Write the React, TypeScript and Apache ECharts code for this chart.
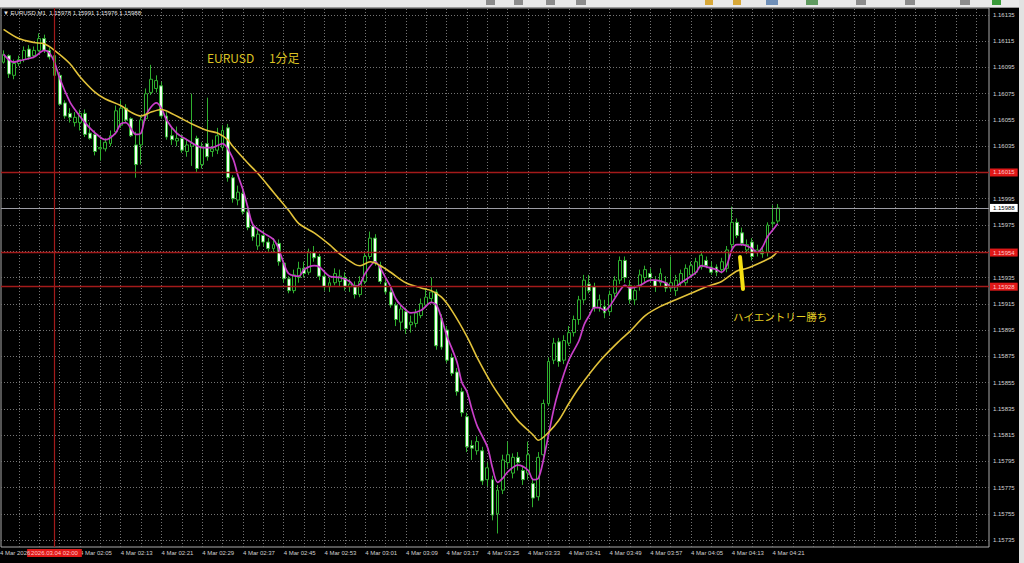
import React, { useEffect, useRef } from 'react';
import * as echarts from 'echarts';

// ---- time slots (M1 bars), starting 01:50 on 4 Mar 2026 ----
const START_MINUTE = 110;
const SLOT_COUNT = 194;
const times: string[] = Array.from({ length: SLOT_COUNT }, (_, i) => {
  const m = START_MINUTE + i;
  return `${String(Math.floor(m / 60)).padStart(2, '0')}:${String(m % 60).padStart(2, '0')}`;
});

// ---- OHLC (bars 01:50 .. 04:22) ----
const opens = [
  1.16099, 1.16104, 1.16089, 1.16098, 1.16101, 1.16109, 1.16104, 1.16108, 1.16117, 1.16108,
  1.16104, 1.16089, 1.16068, 1.16060, 1.16053, 1.16053, 1.16060, 1.16045, 1.16044, 1.16033,
  1.16033, 1.16037, 1.16046, 1.16051, 1.16064, 1.16056, 1.16036, 1.16036, 1.16056, 1.16076,
  1.16079, 1.16081, 1.16058, 1.16043, 1.16039, 1.16041, 1.16031, 1.16035, 1.16041, 1.16021,
  1.16037, 1.16031, 1.16032, 1.16034, 1.16049, 1.16011, 1.15994, 1.15999, 1.15985, 1.15974,
  1.15959, 1.15967, 1.15962, 1.15957, 1.15961, 1.15946, 1.15934, 1.15925, 1.15935, 1.15942,
  1.15939, 1.15954, 1.15951, 1.15936, 1.15928, 1.15931, 1.15932, 1.15935, 1.15928, 1.15929,
  1.15922, 1.15932, 1.15951, 1.15965, 1.15944, 1.15931, 1.15924, 1.15914, 1.15901, 1.15909,
  1.15899, 1.15900, 1.15906, 1.15914, 1.15919, 1.15924, 1.15904, 1.15895, 1.15874, 1.15863,
  1.15848, 1.15829, 1.15807, 1.15803, 1.15803, 1.15781, 1.15781, 1.15755, 1.15773, 1.15794,
  1.15786, 1.15798, 1.15788, 1.15786, 1.15778, 1.15768, 1.15800, 1.15839, 1.15872, 1.15886,
  1.15872, 1.15885, 1.15893, 1.15903, 1.15918, 1.15930, 1.15928, 1.15912, 1.15913, 1.15909,
  1.15923, 1.15933, 1.15948, 1.15929, 1.15918, 1.15928, 1.15935, 1.15938, 1.15933, 1.15931,
  1.15931, 1.15927, 1.15925, 1.15931, 1.15931, 1.15937, 1.15939, 1.15943, 1.15948, 1.15943,
  1.15943, 1.15941, 1.15942, 1.15960, 1.15977, 1.15969, 1.15956, 1.15962, 1.15954, 1.15955,
  1.15954, 1.15976, 1.15978,
];
const highs = [
  1.16108, 1.16105, 1.16101, 1.16104, 1.16111, 1.16112, 1.16111, 1.16121, 1.16120, 1.16110,
  1.16104, 1.16091, 1.16070, 1.16064, 1.16061, 1.16063, 1.16063, 1.16053, 1.16047, 1.16040,
  1.16041, 1.16047, 1.16066, 1.16070, 1.16067, 1.16057, 1.16046, 1.16058, 1.16079, 1.16097,
  1.16089, 1.16084, 1.16061, 1.16049, 1.16050, 1.16044, 1.16040, 1.16075, 1.16043, 1.16038,
  1.16072, 1.16040, 1.16049, 1.16051, 1.16052, 1.16013, 1.16005, 1.16002, 1.15987, 1.15977,
  1.15973, 1.15971, 1.15965, 1.15965, 1.15964, 1.15948, 1.15936, 1.15941, 1.15947, 1.15947,
  1.15957, 1.15959, 1.15953, 1.15939, 1.15935, 1.15942, 1.15941, 1.15939, 1.15934, 1.15932,
  1.15936, 1.15954, 1.15970, 1.15968, 1.15947, 1.15934, 1.15927, 1.15916, 1.15914, 1.15912,
  1.15906, 1.15911, 1.15919, 1.15927, 1.15935, 1.15926, 1.15907, 1.15898, 1.15877, 1.15866,
  1.15851, 1.15832, 1.15811, 1.15814, 1.15806, 1.15794, 1.15784, 1.15777, 1.15800, 1.15810,
  1.15801, 1.15802, 1.15791, 1.15810, 1.15782, 1.15802, 1.15842, 1.15874, 1.15889, 1.15889,
  1.15891, 1.15898, 1.15906, 1.15921, 1.15937, 1.15937, 1.15931, 1.15922, 1.15918, 1.15925,
  1.15936, 1.15951, 1.15951, 1.15933, 1.15929, 1.15941, 1.15944, 1.15942, 1.15936, 1.15942,
  1.15936, 1.15951, 1.15937, 1.15941, 1.15945, 1.15947, 1.15950, 1.15955, 1.15951, 1.15947,
  1.15945, 1.15950, 1.15959, 1.15989, 1.15980, 1.15973, 1.15964, 1.15965, 1.15960, 1.15959,
  1.15977, 1.15990, 1.15991,
];
const lows = [
  1.16098, 1.16087, 1.16086, 1.16096, 1.16099, 1.16101, 1.16102, 1.16107, 1.16106, 1.16101,
  1.16087, 1.16066, 1.16056, 1.16053, 1.16050, 1.16047, 1.16042, 1.16040, 1.16028, 1.16024,
  1.16031, 1.16035, 1.16044, 1.16049, 1.16053, 1.16042, 1.16011, 1.16021, 1.16055, 1.16074,
  1.16076, 1.16056, 1.16040, 1.16036, 1.16035, 1.16030, 1.16027, 1.16020, 1.16015, 1.16018,
  1.16024, 1.16027, 1.16029, 1.16032, 1.16008, 1.15992, 1.15990, 1.15983, 1.15971, 1.15963,
  1.15956, 1.15959, 1.15954, 1.15954, 1.15944, 1.15931, 1.15923, 1.15923, 1.15931, 1.15935,
  1.15937, 1.15947, 1.15933, 1.15925, 1.15924, 1.15929, 1.15928, 1.15925, 1.15924, 1.15919,
  1.15920, 1.15930, 1.15949, 1.15944, 1.15930, 1.15922, 1.15912, 1.15898, 1.15895, 1.15892,
  1.15893, 1.15897, 1.15904, 1.15912, 1.15916, 1.15880, 1.15880, 1.15870, 1.15860, 1.15845,
  1.15829, 1.15802, 1.15796, 1.15800, 1.15777, 1.15776, 1.15750, 1.15740, 1.15770, 1.15790,
  1.15782, 1.15788, 1.15777, 1.15781, 1.15760, 1.15765, 1.15797, 1.15837, 1.15869, 1.15867,
  1.15869, 1.15883, 1.15890, 1.15899, 1.15915, 1.15923, 1.15909, 1.15909, 1.15904, 1.15906,
  1.15920, 1.15930, 1.15931, 1.15915, 1.15914, 1.15925, 1.15931, 1.15931, 1.15924, 1.15928,
  1.15924, 1.15924, 1.15921, 1.15928, 1.15928, 1.15935, 1.15937, 1.15941, 1.15942, 1.15937,
  1.15936, 1.15938, 1.15939, 1.15957, 1.15965, 1.15959, 1.15953, 1.15948, 1.15951, 1.15950,
  1.15951, 1.15973, 1.15976,
];
const closes = [
  1.16105, 1.16090, 1.16098, 1.16101, 1.16108, 1.16103, 1.16108, 1.16117, 1.16108, 1.16103,
  1.16089, 1.16067, 1.16058, 1.16057, 1.16057, 1.16060, 1.16044, 1.16041, 1.16031, 1.16034,
  1.16038, 1.16043, 1.16062, 1.16064, 1.16055, 1.16043, 1.16021, 1.16055, 1.16075, 1.16086,
  1.16085, 1.16058, 1.16042, 1.16040, 1.16041, 1.16032, 1.16036, 1.16037, 1.16018, 1.16035,
  1.16027, 1.16033, 1.16043, 1.16047, 1.16011, 1.15995, 1.16000, 1.15985, 1.15973, 1.15966,
  1.15968, 1.15962, 1.15957, 1.15960, 1.15947, 1.15934, 1.15925, 1.15937, 1.15942, 1.15938,
  1.15954, 1.15950, 1.15936, 1.15928, 1.15931, 1.15938, 1.15936, 1.15928, 1.15930, 1.15922,
  1.15932, 1.15951, 1.15965, 1.15947, 1.15932, 1.15924, 1.15914, 1.15903, 1.15911, 1.15896,
  1.15901, 1.15908, 1.15915, 1.15920, 1.15924, 1.15883, 1.15882, 1.15872, 1.15862, 1.15848,
  1.15832, 1.15806, 1.15805, 1.15810, 1.15780, 1.15790, 1.15754, 1.15773, 1.15796, 1.15800,
  1.15798, 1.15794, 1.15781, 1.15800, 1.15767, 1.15798, 1.15839, 1.15871, 1.15885, 1.15871,
  1.15887, 1.15893, 1.15903, 1.15918, 1.15933, 1.15925, 1.15912, 1.15918, 1.15908, 1.15922,
  1.15933, 1.15948, 1.15935, 1.15918, 1.15925, 1.15937, 1.15941, 1.15935, 1.15928, 1.15938,
  1.15927, 1.15931, 1.15933, 1.15938, 1.15942, 1.15944, 1.15947, 1.15952, 1.15944, 1.15939,
  1.15939, 1.15947, 1.15956, 1.15977, 1.15967, 1.15961, 1.15960, 1.15951, 1.15956, 1.15953,
  1.15975, 1.15977, 1.15988,
];

// ---- moving averages: [bar index, price] ----
const maFast: [number, number][] = [
  [0, 1.16105], [2, 1.16099], [3, 1.161], [6, 1.16103], [8, 1.16108], [9, 1.16106], [10, 1.16099],
  [11, 1.16087], [13, 1.16069], [14, 1.16063], [16, 1.16053], [18, 1.16045], [20, 1.1604],
  [22, 1.16045], [23, 1.16052], [24, 1.16053], [26, 1.16044], [27, 1.16045], [28, 1.16059],
  [30, 1.16068], [31, 1.16064], [32, 1.16055], [34, 1.16045], [36, 1.1604], [39, 1.16034],
  [41, 1.16034], [43, 1.16037], [45, 1.16026], [46, 1.16013], [47, 1.16002], [48, 1.15988],
  [49, 1.15975], [51, 1.15969], [53, 1.15964], [54, 1.15957], [55, 1.15946], [56, 1.15938],
  [58, 1.15936], [59, 1.15941], [61, 1.15944], [62, 1.15943], [64, 1.15936], [66, 1.15935],
  [68, 1.15932], [69, 1.15928], [70, 1.1593], [71, 1.15938], [73, 1.15947], [74, 1.15942],
  [75, 1.15935], [76, 1.15928], [77, 1.15919], [78, 1.15914], [80, 1.15908], [82, 1.1591],
  [84, 1.15916], [85, 1.15914], [86, 1.15904], [87, 1.15891], [89, 1.15871], [90, 1.15855],
  [91, 1.15848], [92, 1.15834], [93, 1.15822], [95, 1.15806], [96, 1.1579], [97, 1.15779],
  [98, 1.15782], [99, 1.15787], [101, 1.15792], [103, 1.15788], [104, 1.15781], [105, 1.15782],
  [106, 1.15796], [108, 1.15834], [109, 1.15849], [111, 1.15872], [113, 1.15887], [114, 1.15899],
  [115, 1.15906], [116, 1.15912], [117, 1.15912], [118, 1.1591], [119, 1.15913], [121, 1.15925],
  [122, 1.15929], [123, 1.15927], [125, 1.15929], [127, 1.15933], [128, 1.15933], [130, 1.15931],
  [131, 1.15928], [132, 1.15928], [133, 1.15931], [135, 1.15936], [136, 1.15939], [137, 1.15944],
  [139, 1.15942], [140, 1.15941], [141, 1.15939], [142, 1.15944], [143, 1.15956], [144, 1.1596],
  [145, 1.1596], [147, 1.15957], [148, 1.15954], [149, 1.15958], [150, 1.15966], [151, 1.15971],
  [152, 1.15976],
];
const maSlow: [number, number][] = [
  [0, 1.16124], [3, 1.16117], [6, 1.16114], [8, 1.16113], [10, 1.16108], [13, 1.16098],
  [15, 1.16088], [18, 1.16076], [20, 1.16071], [23, 1.16066], [25, 1.16061], [27, 1.16058],
  [29, 1.16061], [31, 1.16063], [33, 1.1606], [35, 1.16056], [37, 1.16052], [40, 1.16047],
  [42, 1.16045], [44, 1.1604], [45, 1.16035], [48, 1.16022], [50, 1.16014], [53, 1.16],
  [56, 1.15986], [58, 1.15976], [61, 1.15969], [64, 1.1596], [66, 1.15953], [69, 1.15945],
  [70, 1.15944], [72, 1.15947], [74, 1.15944], [76, 1.15939], [79, 1.15931], [82, 1.15927],
  [84, 1.15925], [86, 1.1592], [88, 1.1591], [91, 1.1589], [93, 1.15874], [96, 1.15853],
  [99, 1.15836], [101, 1.15826], [104, 1.15815], [105, 1.15811], [107, 1.15817], [109, 1.15826],
  [111, 1.15839], [113, 1.15851], [117, 1.15871], [121, 1.15887], [123, 1.15894], [126, 1.15906],
  [129, 1.15913], [132, 1.15918], [135, 1.15923], [138, 1.15928], [141, 1.15932], [144, 1.1594],
  [146, 1.15942], [149, 1.15947], [151, 1.15951], [152, 1.15955],
];

// ---- axes ----
const yTickLabels = [
  1.16135, 1.16115, 1.16095, 1.16075, 1.16055, 1.16035, 1.16015, 1.15995, 1.15975, 1.15955,
  1.15935, 1.15915, 1.15895, 1.15875, 1.15855, 1.15835, 1.15815, 1.15795, 1.15775, 1.15755, 1.15735,
];
const xTickLabels = [
  '02:05', '02:13', '02:21', '02:29', '02:37', '02:45', '02:53', '03:01', '03:09',
  '03:17', '03:25', '03:33', '03:41', '03:49', '03:57', '04:05', '04:13', '04:21',
];
const Y_MIN = 1.157297;
const Y_MAX = 1.161403;

// ---- horizontal / vertical objects ----
const redLevels = [1.16015, 1.15954, 1.15928];
const currentPrice = 1.15988;
const vLineTime = '02:00';
const symbolName = 'EURUSD,M1';
const dateLabel = '4 Mar 2026';
const noteTitle = 'EURUSD\u3000 1分足';
const noteEntry = 'ハイエントリー勝ち';

const FONT = '"Liberation Sans", "DejaVu Sans", sans-serif';
const JP_FONT = '"Noto Sans CJK JP", "Noto Sans", sans-serif';
const GREEN = '#2fb02f';
const LEVEL_RED = '#a31a1a';

// toolbar icon strip (decoration only): [x, width, colour]
const toolbarIcons: [number, number, string][] = [
  [486, 9, '#8c8c8c'], [514, 9, '#8c8c8c'], [546, 9, '#8c8c8c'], [576, 10, '#8c8c8c'],
  [705, 8, '#d8a838'], [733, 8, '#d8a838'], [766, 12, '#6f8fb8'], [806, 12, '#5f9a5f'],
  [856, 10, '#8c8c8c'], [905, 10, '#8c8c8c'], [960, 10, '#8c8c8c'], [992, 9, '#3a9a3a'],
];

export default function App() {
  const ref = useRef<HTMLDivElement>(null);

  useEffect(() => {
    document.body.style.margin = '0';
    document.body.style.background = '#000';
    if (!ref.current) return;
    const chart = echarts.init(ref.current, null, { renderer: 'svg' });

    const candles = opens.map((o, i) => [o, closes[i], lows[i], highs[i]]);
    const last = opens.length - 1;
    const headline =
      '\u25BC ' + symbolName + '  ' +
      [opens[last], highs[last], lows[last], closes[last]].map((v) => v.toFixed(5)).join(' ');

    const gridIdx = times.map((_, i) => i).filter((i) => i % 4 === 3);

    const option: any = {
      animation: false,
      backgroundColor: '#000',
      grid: {
        left: 1, top: 8, width: 988, height: 539,
        show: true, backgroundColor: '#000', borderColor: '#a9a9a9', borderWidth: 1,
      },
      xAxis: {
        type: 'category',
        data: times,
        axisLine: { show: false },
        axisTick: { show: false },
        splitLine: { show: false },
        axisLabel: {
          interval: (_idx: number, val: string) => xTickLabels.includes(val),
          formatter: (v: string) => '4 Mar ' + v,
          align: 'left',
          color: '#cfcfcf',
          fontSize: 6,
          fontFamily: FONT,
          margin: 3,
        },
      },
      yAxis: {
        type: 'value',
        position: 'right',
        min: Y_MIN,
        max: Y_MAX,
        splitLine: { show: false },
        axisLine: { show: false },
        axisTick: { show: false },
        axisLabel: {
          customValues: yTickLabels,
          formatter: (v: number) => v.toFixed(5),
          color: '#d4d4d4',
          fontSize: 6,
          fontFamily: FONT,
          margin: 4,
        },
      },
      series: [
        {
          name: 'grid',
          type: 'line',
          data: [],
          z: 0,
          silent: true,
          markLine: {
            silent: true,
            precision: 5,
            symbol: ['none', 'none'],
            label: { show: false },
            z: 0,
            lineStyle: { color: '#747474', type: [1, 2], width: 1 },
            data: [
              ...yTickLabels.map((v) => ({ yAxis: v })),
              ...gridIdx.map((i) => ({ xAxis: times[i] })),
            ],
          },
        },
        {
          name: 'EURUSD',
          type: 'candlestick',
          data: candles,
          barWidth: 3.4,
          z: 2,
          itemStyle: {
            color: '#000000',
            color0: '#f2fff2',
            borderColor: GREEN,
            borderColor0: GREEN,
            borderColorDoji: GREEN,
            borderWidth: 1,
          },
        },
        {
          name: 'MA fast',
          type: 'line',
          data: maFast.map(([i, v]) => [times[i], v]),
          showSymbol: false,
          symbol: 'none',
          smooth: 0.3,
          z: 3,
          lineStyle: { color: '#c93fc9', width: 1.7 },
        },
        {
          name: 'MA slow',
          type: 'line',
          data: maSlow.map(([i, v]) => [times[i], v]),
          showSymbol: false,
          symbol: 'none',
          smooth: 0.3,
          z: 3,
          lineStyle: { color: '#e2c23a', width: 1.6 },
        },
        {
          name: 'levels',
          type: 'line',
          data: [],
          z: 4,
          markLine: {
            silent: true,
            precision: 5,
            symbol: ['none', 'none'],
            z: 4,
            data: [
              ...redLevels.map((v) => ({
                yAxis: v,
                lineStyle: { color: LEVEL_RED, width: 1.4, type: 'solid' },
                label: {
                  show: true, position: 'end', distance: 1,
                  formatter: () => v.toFixed(5),
                  backgroundColor: '#e01818', color: '#ffc8c8',
                  fontSize: 6, fontFamily: FONT, padding: [1, 3],
                },
              })),
              {
                yAxis: currentPrice,
                lineStyle: { color: '#9c9ca4', width: 1, type: 'solid' },
                label: {
                  show: true, position: 'end', distance: 1,
                  formatter: () => currentPrice.toFixed(5),
                  backgroundColor: '#ffffff', color: '#000000',
                  fontSize: 6, fontFamily: FONT, padding: [1, 3],
                },
              },
              {
                xAxis: vLineTime,
                lineStyle: { color: LEVEL_RED, width: 1.2, type: 'solid' },
                label: {
                  show: true, position: 'start', distance: 2,
                  formatter: () => '2026.03.04 ' + vLineTime,
                  backgroundColor: '#e01818', color: '#ffc8c8',
                  fontSize: 6, fontFamily: FONT, padding: [1, 4],
                },
              },
            ],
          },
        },
      ],
      graphic: [
        { type: 'rect', shape: { x: 0, y: 0, width: 1024, height: 7 }, style: { fill: '#e9e9e9' }, z: 10 },
        ...toolbarIcons.map(([x, w, c]) => ({
          type: 'rect', shape: { x, y: 0, width: w, height: 5 }, style: { fill: c }, z: 11,
        })),
        { type: 'line', shape: { x1: 0, y1: 7.5, x2: 1024, y2: 7.5 }, style: { stroke: '#9a9a9a', lineWidth: 1 }, z: 10 },
        { type: 'rect', shape: { x: 1019, y: 0, width: 5, height: 563 }, style: { fill: '#e2e2e2' }, z: 10 },
        {
          type: 'text', x: 3, y: 10, z: 10,
          style: { text: headline, fill: '#e2e2e2', font: `6px ${FONT}` },
        },
        {
          type: 'text', x: 0, y: 550, z: 10,
          style: { text: dateLabel, fill: '#cfcfcf', font: `6px ${FONT}` },
        },
        {
          type: 'text', x: 207, y: 51, z: 10,
          style: { text: noteTitle, fill: '#dcc324', font: `12px ${JP_FONT}` },
        },
        {
          type: 'text', x: 733, y: 311, z: 10,
          style: { text: noteEntry, fill: '#e4cc22', font: `10.5px ${JP_FONT}` },
        },
        {
          type: 'line', z: 10,
          shape: { x1: 740, y1: 257, x2: 743, y2: 289 },
          style: { stroke: '#f4e012', lineWidth: 4, lineCap: 'round' },
        },
      ],
    };

    chart.setOption(option);
    return () => chart.dispose();
  }, []);

  return <div ref={ref} style={{ width: 1024, height: 563, background: '#000' }} />;
}
